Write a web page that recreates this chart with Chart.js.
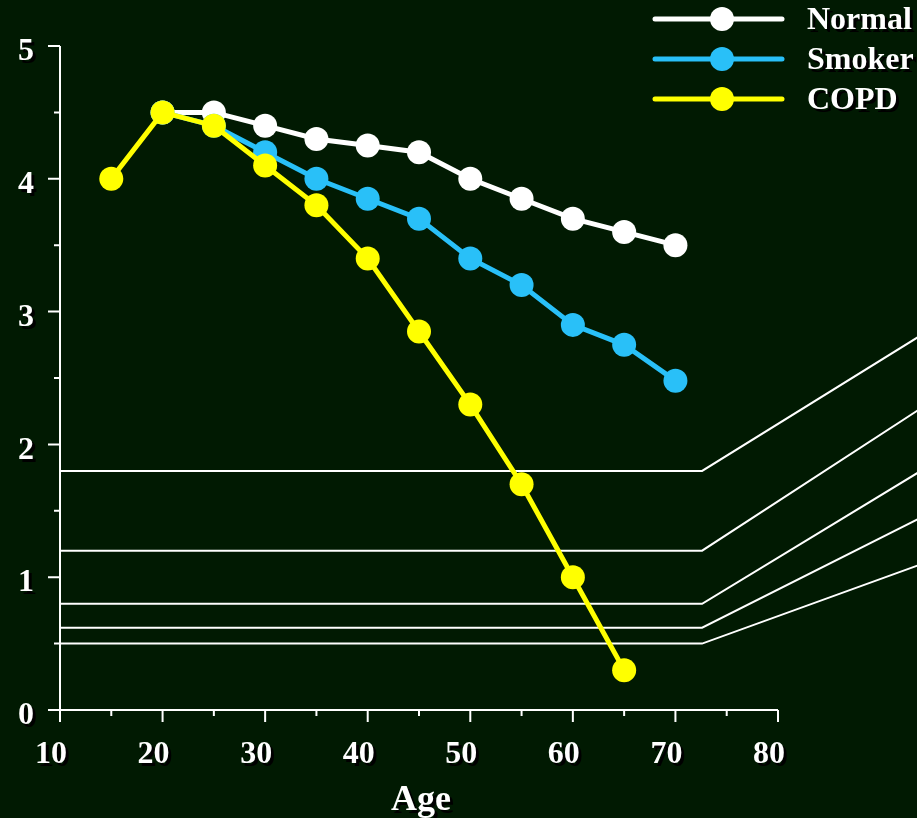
<!doctype html>
<html lang="en">
<head>
<meta charset="UTF-8">
<title>FEV1 by age</title>
<script src="https://cdn.jsdelivr.net/npm/chart.js"></script>
<style>
  html, body { margin: 0; padding: 0; background: #011a02; }
  #wrap { width: 917px; height: 818px; }
</style>
</head>
<body>
<div id="wrap"><canvas id="fevChart" width="917" height="818"></canvas></div>
<script>
  // values
  const ages = [15, 20, 25, 30, 35, 40, 45, 50, 55, 60, 65, 70];
  const normal = [null, 4.5, 4.5, 4.4, 4.3, 4.25, 4.2, 4.0, 3.85, 3.7, 3.6, 3.5];
  const smoker = [null, 4.5, 4.4, 4.2, 4.0, 3.85, 3.7, 3.4, 3.2, 2.9, 2.75, 2.48];
  const copd = [4.0, 4.5, 4.4, 4.1, 3.8, 3.4, 2.85, 2.3, 1.7, 1.0, 0.3, null];

  // the thin white guide lines: flat part, then a bend off to the right
  const refAges = [10, 72.6, 93.7];
  const refStart = [1.8, 1.2, 0.8, 0.62, 0.5];
  const refEnd = [2.81, 2.26, 1.79, 1.44, 1.09];

  const xTicks = [10, 20, 30, 40, 50, 60, 70, 80];
  const yTicks = [0, 1, 2, 3, 4, 5];

  const bg = '#011a02';
  const font = '"Liberation Serif", "Times New Roman", serif';

  function pts(values) {
    return ages.map((a, i) => ({x: a, y: values[i]})).filter(p => p.y !== null);
  }

  const series = [
    {label: 'Normal', data: normal, color: '#ffffff', order: 2},
    {label: 'Smoker', data: smoker, color: '#29c0f8', order: 1},
    {label: 'COPD', data: copd, color: '#ffff00', order: 0},
  ];

  const datasets = refStart.map((v, i) => ({
    label: 'ref' + i,
    data: [{x: refAges[0], y: v}, {x: refAges[1], y: v}, {x: refAges[2], y: refEnd[i]}],
    borderColor: '#ffffff',
    borderWidth: 2,
    pointRadius: 0,
    clip: false,
    order: 3,
  }));

  series.forEach(s => {
    datasets.push({
      label: s.label,
      data: pts(s.data),
      borderColor: s.color,
      backgroundColor: s.color,
      borderWidth: 5,
      pointRadius: 12,
      pointHoverRadius: 12,
      pointBorderWidth: 0,
      clip: false,
      order: s.order,
    });
  });

  function shadowText(ctx, text, x, y) {
    ctx.fillStyle = '#000000';
    ctx.fillText(text, x + 3, y + 3);
    ctx.fillStyle = '#ffffff';
    ctx.fillText(text, x, y);
  }

  const axesPlugin = {
    id: 'axesPlugin',
    beforeDraw(chart) {
      const ctx = chart.ctx;
      ctx.save();
      ctx.fillStyle = bg;
      ctx.fillRect(0, 0, chart.width, chart.height);
      ctx.restore();
    },
    afterDraw(chart) {
      const ctx = chart.ctx;
      const xs = chart.scales.x;
      const ys = chart.scales.y;
      const x0 = xs.getPixelForValue(10);
      const x1 = xs.getPixelForValue(80);
      const y0 = ys.getPixelForValue(0);
      const y1 = ys.getPixelForValue(5);

      ctx.save();
      ctx.strokeStyle = '#ffffff';
      ctx.lineWidth = 2;
      ctx.beginPath();
      ctx.moveTo(x0, y1);
      ctx.lineTo(x0, y0);
      ctx.moveTo(x0 - 12, y0);
      ctx.lineTo(x1, y0);
      // y ticks, half steps shorter
      for (let v = 0.5; v <= 5; v += 0.5) {
        const py = ys.getPixelForValue(v);
        const len = Number.isInteger(v) ? 12 : 6;
        ctx.moveTo(x0 - len, py);
        ctx.lineTo(x0, py);
      }
      // x ticks, every 5 years
      for (let a = 10; a <= 80; a += 5) {
        const px = xs.getPixelForValue(a);
        const len = a % 10 === 0 ? 12 : 6;
        ctx.moveTo(px, y0);
        ctx.lineTo(px, y0 + len);
      }
      ctx.stroke();

      ctx.font = 'bold 32px ' + font;
      ctx.textAlign = 'right';
      ctx.textBaseline = 'middle';
      yTicks.forEach(v => shadowText(ctx, String(v), 34, ys.getPixelForValue(v) + 6));

      ctx.textAlign = 'center';
      ctx.textBaseline = 'alphabetic';
      xTicks.forEach(a => shadowText(ctx, String(a), xs.getPixelForValue(a) - 9, y0 + 53));

      ctx.font = 'bold 36px ' + font;
      shadowText(ctx, 'Age', (x0 + x1) / 2 + 2, 810);

      // legend
      ctx.font = 'bold 32px ' + font;
      ctx.textAlign = 'left';
      ctx.textBaseline = 'middle';
      series.forEach((s, i) => {
        const ly = 19 + i * 40;
        ctx.strokeStyle = s.color;
        ctx.fillStyle = s.color;
        ctx.lineWidth = 5;
        ctx.lineCap = 'round';
        ctx.beginPath();
        ctx.moveTo(655, ly);
        ctx.lineTo(782, ly);
        ctx.stroke();
        ctx.beginPath();
        ctx.arc(722, ly, 12, 0, Math.PI * 2);
        ctx.fill();
        shadowText(ctx, s.label, 807, ly + 2);
      });
      ctx.restore();
    }
  };

  new Chart(document.getElementById('fevChart'), {
    type: 'line',
    data: {datasets: datasets},
    options: {
      responsive: false,
      animation: false,
      layout: {padding: {left: 60, right: 139, top: 46, bottom: 108}},
      scales: {
        x: {type: 'linear', min: 10, max: 80, display: false},
        y: {type: 'linear', min: 0, max: 5, display: false},
      },
      plugins: {
        legend: {display: false},
        tooltip: {enabled: false},
      },
    },
    plugins: [axesPlugin],
  });
</script>
</body>
</html>
